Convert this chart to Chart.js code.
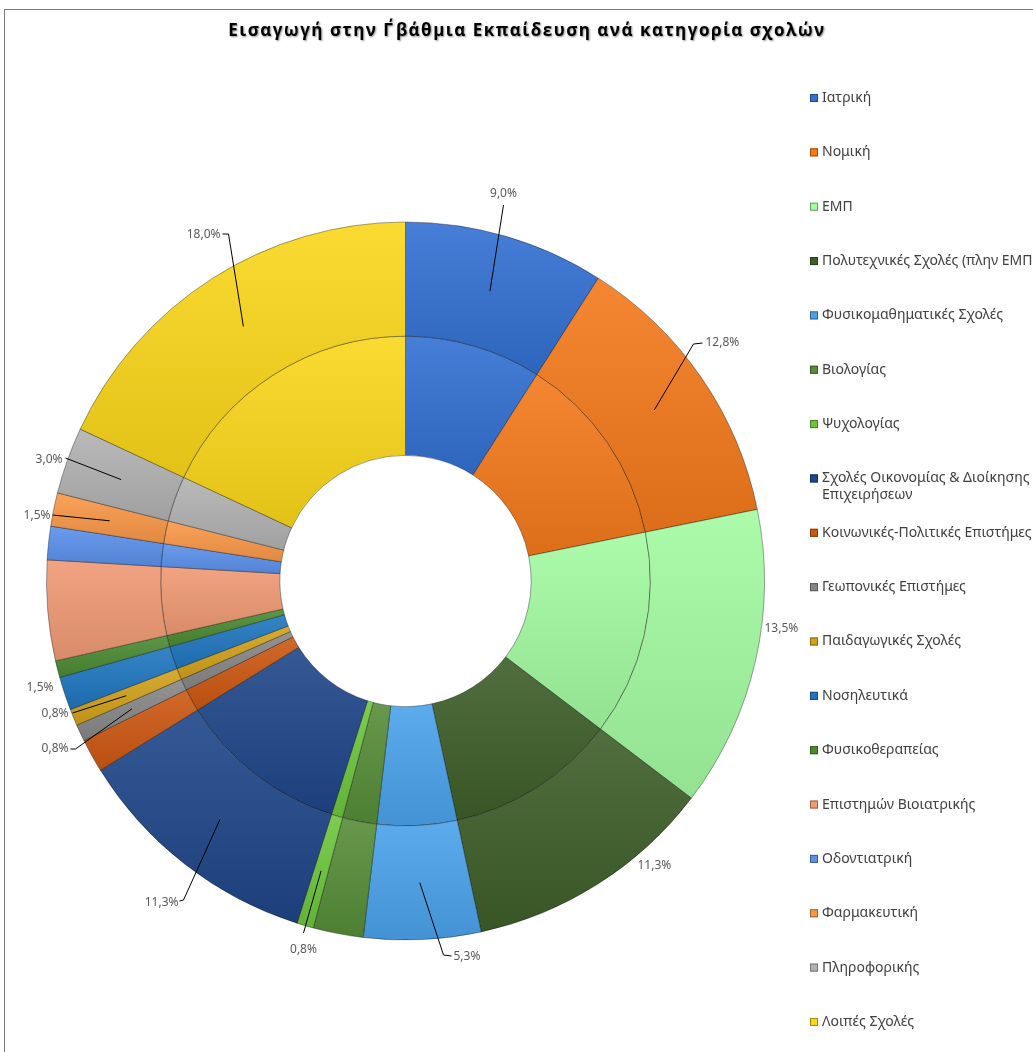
<!DOCTYPE html>
<html lang="el">
<head>
<meta charset="utf-8">
<title>Εισαγωγή στην Γ΄βάθμια Εκπαίδευση ανά κατηγορία σχολών</title>
<script src="https://cdn.jsdelivr.net/npm/chart.js@4.4.1/dist/chart.umd.min.js"></script>
<style>
  html, body { margin: 0; padding: 0; background: #fff; overflow: hidden; }
  #frame { position: absolute; left: 4px; top: 9px; width: 1044px; height: 1111px; border: 1px solid #7a7a7a; }
  canvas { display: block; }
</style>
</head>
<body>
<div id="frame"><canvas id="schools" width="1044" height="1111"></canvas></div>
<script>
// κατηγορίες σχολών (η σειρά του υπομνήματος)
const schools = [
    'Ιατρική',
    'Νομική',
    'ΕΜΠ',
    'Πολυτεχνικές Σχολές (πλην ΕΜΠ)',
    'Φυσικομαθηματικές Σχολές',
    'Βιολογίας',
    'Ψυχολογίας',
    ['Σχολές Οικονομίας & Διοίκησης', 'Επιχειρήσεων'],
    'Κοινωνικές-Πολιτικές Επιστήμες',
    'Γεωπονικές Επιστήμες',
    'Παιδαγωγικές Σχολές',
    'Νοσηλευτικά',
    'Φυσικοθεραπείας',
    'Επιστημών Βιοιατρικής',
    'Οδοντιατρική',
    'Φαρμακευτική',
    'Πληροφορικής',
    'Λοιπές Σχολές'
];

// εισαχθέντες ανά κατηγορία (εξωτερικός και εσωτερικός δακτύλιος)
const outerCounts = [12, 17, 18, 15, 7, 3, 1, 15, 2, 1, 1, 2, 1, 6, 2, 2, 4, 24];
const innerCounts = [12, 17, 18, 15, 7, 3, 1, 15, 2, 1, 1, 2, 1, 6, 2, 2, 4, 24];

const sliceColors = [
    '#3270d2', '#f47a1c', '#a2fba2', '#3e5e2a', '#4aa2ea', '#568d38',
    '#6cc63c', '#1f4689', '#cc5812', '#878787', '#d2a21a', '#1f76bf',
    '#4a8a32', '#f09a74', '#5b90ea', '#fb9848', '#b2b2b2', '#fbd71a'
];

// where the % labels sit, as px offsets from the doughnut centre
const labelSpots = [
    { i: 0,  path: [[98, -376]],             text: [98, -387],  align: 'center' },
    { i: 1,  path: [[288, -237], [297, -238]], text: [300, -238], align: 'left' },
    { i: 2,  path: [],                       text: [359, 48],   align: 'left' },
    { i: 3,  path: [],                       text: [232, 285],  align: 'left' },
    { i: 4,  path: [[38, 374], [46, 375]],   text: [48, 376],   align: 'left' },
    { i: 6,  path: [[-102, 352]],            text: [-102, 369], align: 'center' },
    { i: 7,  path: [[-222, 319], [-226, 320]], text: [-227, 322], align: 'right' },
    { i: 9,  path: [[-330, 168], [-335, 168]], text: [-337, 168], align: 'right' },
    { i: 10, path: [[-333, 132]],            text: [-337, 133], align: 'right' },
    { i: 11, path: [],                       text: [-352, 107], align: 'right' },
    { i: 15, path: [[-353, -66]],            text: [-355, -65], align: 'right' },
    { i: 16, path: [[-340, -123]],           text: [-343, -121], align: 'right' },
    { i: 17, path: [[-177, -347], [-183, -347]], text: [-185, -346], align: 'right' }
];

const CUTOUT = 0.35;
const OUTER_WEIGHT = 114;
const INNER_WEIGHT = 119;

function mix(hex, amt) {
    const n = parseInt(hex.slice(1), 16);
    const t = amt > 0 ? 255 : 0;
    const p = Math.abs(amt);
    const ch = [n >> 16, (n >> 8) & 255, n & 255].map(v => Math.round(v + (t - v) * p));
    return `rgb(${ch[0]},${ch[1]},${ch[2]})`;
}

// light-to-dark vertical gradient over each slice, like the excel fill
function sliceFill(c) {
    const base = sliceColors[c.dataIndex];
    const area = c.chart.chartArea;
    if (!area) return base;
    const values = c.dataset.data;
    const total = values.reduce((a, b) => a + b, 0);
    const before = values.slice(0, c.dataIndex).reduce((a, b) => a + b, 0);
    const a0 = before / total * 2 * Math.PI - Math.PI / 2;
    const a1 = a0 + values[c.dataIndex] / total * 2 * Math.PI;
    const cy = (area.top + area.bottom) / 2;
    const R = Math.min(area.width, area.height) / 2;
    const hole = R * CUTOUT;
    const mid = hole + (R - hole) * INNER_WEIGHT / (INNER_WEIGHT + OUTER_WEIGHT);
    const radii = c.datasetIndex === 0 ? [mid, R] : [hole, mid];
    let top = Infinity, bottom = -Infinity;
    for (let k = 0; k <= 24; k++) {
        const a = a0 + (a1 - a0) * k / 24;
        radii.forEach(r => {
            const y = cy + Math.sin(a) * r;
            top = Math.min(top, y);
            bottom = Math.max(bottom, y);
        });
    }
    const g = c.chart.ctx.createLinearGradient(0, top, 0, bottom + 1);
    g.addColorStop(0, mix(base, 0.1));
    g.addColorStop(1, mix(base, -0.1));
    return g;
}

const chartTitle = {
    id: 'chartTitle',
    afterDraw(chart) {
        const ctx = chart.ctx;
        ctx.save();
        ctx.font = 'bold 17px "Open Sans"';
        ctx.letterSpacing = '1.5px';
        ctx.textAlign = 'center';
        ctx.textBaseline = 'middle';
        ctx.shadowColor = 'rgba(0,0,0,0.45)';
        ctx.shadowOffsetX = 1;
        ctx.shadowOffsetY = 1;
        ctx.shadowBlur = 2;
        ctx.fillStyle = '#000';
        ctx.fillText('Εισαγωγή στην Γ΄βάθμια Εκπαίδευση ανά κατηγορία σχολών', chart.width / 2, 21);
        ctx.restore();
    }
};

const sliceLabels = {
    id: 'sliceLabels',
    afterDatasetsDraw(chart) {
        const ctx = chart.ctx;
        const arcs = chart.getDatasetMeta(0).data;
        const values = chart.data.datasets[0].data;
        const total = values.reduce((a, b) => a + b, 0);
        ctx.save();
        ctx.font = '12px "Noto Sans"';
        ctx.textBaseline = 'middle';
        labelSpots.forEach(s => {
            const arc = arcs[s.i];
            const mid = (arc.startAngle + arc.endAngle) / 2;
            const r = (arc.innerRadius + arc.outerRadius) / 2;
            if (s.path.length) {
                ctx.beginPath();
                ctx.moveTo(arc.x + Math.cos(mid) * r, arc.y + Math.sin(mid) * r);
                s.path.forEach(p => ctx.lineTo(arc.x + p[0], arc.y + p[1]));
                ctx.strokeStyle = '#000';
                ctx.lineWidth = 1;
                ctx.stroke();
            }
            const pct = (values[s.i] / total * 100).toFixed(1).replace('.', ',') + '%';
            ctx.fillStyle = '#595959';
            ctx.textAlign = s.align;
            ctx.fillText(pct, arc.x + s.text[0], arc.y + s.text[1]);
        });
        ctx.restore();
    }
};

const sideLegend = {
    id: 'sideLegend',
    afterDraw(chart) {
        const ctx = chart.ctx;
        const boxX = chart.chartArea.right + 45;
        ctx.save();
        ctx.font = '14px "Noto Sans"';
        ctx.textBaseline = 'middle';
        chart.data.labels.forEach((label, i) => {
            const y = 88 + i * 54.35;
            ctx.fillStyle = sliceColors[i];
            ctx.fillRect(boxX, y - 4, 8, 8);
            ctx.strokeStyle = mix(sliceColors[i], -0.35);
            ctx.strokeRect(boxX + 0.5, y - 3.5, 7, 7);
            ctx.fillStyle = '#404040';
            const lines = Array.isArray(label) ? label : [label];
            lines.forEach((line, k) => ctx.fillText(line, boxX + 12, y + k * 17));
        });
        ctx.restore();
    }
};

new Chart(document.getElementById('schools'), {
    type: 'doughnut',
    data: {
        labels: schools,
        datasets: [
            {
                label: 'Εξωτερικός',
                data: outerCounts,
                backgroundColor: sliceFill,
                borderColor: 'rgba(0,0,0,0.35)',
                borderWidth: 1,
                weight: OUTER_WEIGHT
            },
            {
                label: 'Εσωτερικός',
                data: innerCounts,
                backgroundColor: sliceFill,
                borderColor: 'rgba(0,0,0,0.35)',
                borderWidth: 1,
                weight: INNER_WEIGHT
            }
        ]
    },
    options: {
        responsive: false,
        animation: false,
        cutout: (CUTOUT * 100) + '%',
        hoverOffset: 0,
        layout: { padding: { left: 41, right: 284, top: 31, bottom: 0 } },
        plugins: {
            legend: { display: false },
            tooltip: { enabled: false },
            title: { display: false }
        }
    },
    plugins: [sliceLabels, chartTitle, sideLegend]
});
</script>
</body>
</html>
